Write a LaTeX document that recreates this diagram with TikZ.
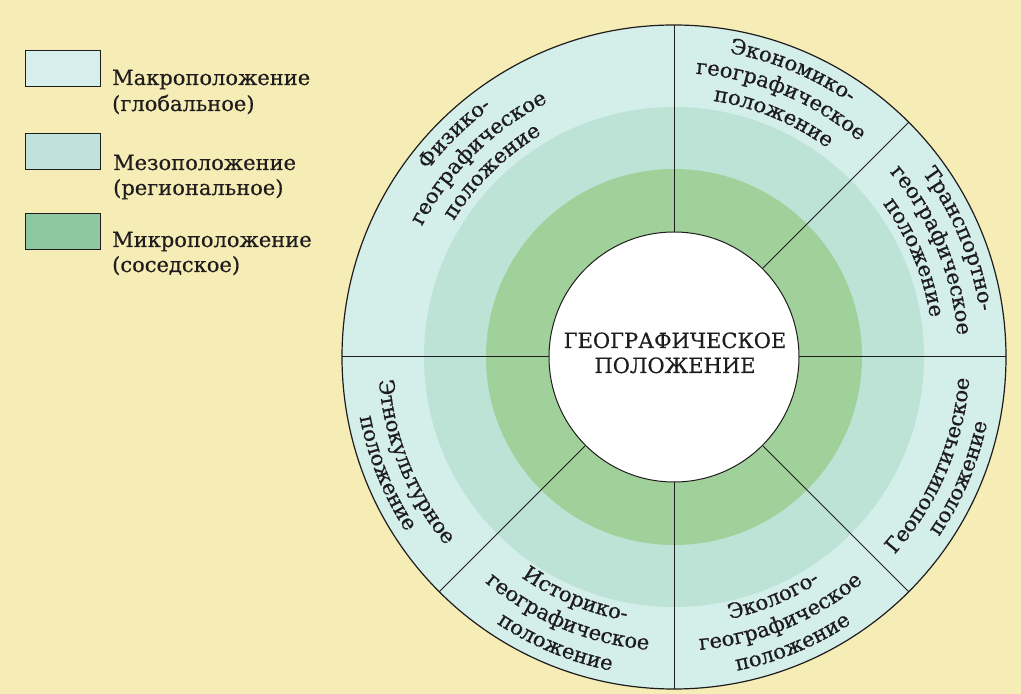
\documentclass[tikz,border=0pt]{standalone}
\usepackage{fontspec}
\setmainfont{DejaVu Serif}[UprightFeatures={FakeBold=0.45}]
\usetikzlibrary{decorations.text}
\definecolor{paper}{HTML}{F6EDB6}
\definecolor{macro}{HTML}{D4EEE9}
\definecolor{meso}{HTML}{BDE3D6}
\definecolor{micro}{HTML}{A0D19A}
\definecolor{boxA}{HTML}{D6EFED}
\definecolor{boxB}{HTML}{BFE3DC}
\definecolor{boxC}{HTML}{8EC8A2}
\definecolor{ink}{HTML}{1E1C1C}
\newcommand\secfont{\fontsize{21}{25}\selectfont}
\newcommand\toptext[3]{%
  \path[decorate,decoration={text along path,text align=center,text={|\secfont\color{ink}|#3}}]
    ([shift={(#2+45:#1)}]C) arc[start angle=#2+45,end angle=#2-45,radius=#1];}
\newcommand\bottext[3]{%
  \path[decorate,decoration={text along path,text align=center,text={|\secfont\color{ink}|#3}}]
    ([shift={(#2-45:#1)}]C) arc[start angle=#2-45,end angle=#2+45,radius=#1];}
\tikzset{
  legendbox/.style={draw=ink,line width=0.9pt,minimum width=75pt,minimum height=36pt,inner sep=0pt,anchor=north west},
  legendtext/.style={anchor=base west,inner sep=0pt,font=\fontsize{21}{25}\selectfont,text=ink},
  divider/.style={draw=ink,line width=1pt},
}
\begin{document}
\begin{tikzpicture}[x=1pt,y=1pt]
\useasboundingbox (0,0) rectangle (1021,694);
\fill[paper] (0,0) rectangle (1021,694);
% legend
\node[legendbox,fill=boxA] (bA) at (25,644) {};
\node[legendbox,fill=boxB] (bB) at (25,561) {};
\node[legendbox,fill=boxC] (bC) at (25,481) {};
\node[legendtext] (tA1) at (112,609) {Макроположение};
\node[legendtext] (tA2) at (112,583) {(глобальное)};
\node[legendtext] (tB1) at (113,524) {Мезоположение};
\node[legendtext] (tB2) at (113,499) {(региональное)};
\node[legendtext] (tC1) at (112,447) {Микроположение};
\node[legendtext] (tC2) at (112,422) {(соседское)};
% rings
\coordinate (C) at (674,337);
\fill[macro] (C) circle[radius=332];
\fill[meso] (C) circle[radius=250];
\fill[micro] (C) circle[radius=188];
\draw[ink,line width=1.2pt] (C) circle[radius=332];
\foreach \a in {90,45,0,-45,-90,-135,180}
  \draw[divider] ([shift={(\a:125)}]C) -- ([shift={(\a:332)}]C);
\node[circle,fill=white,draw=ink,line width=1pt,minimum size=250pt,inner sep=0pt] (core) at (C) {};
\node[anchor=base,inner sep=0pt,font=\fontsize{21}{25}\selectfont,text=ink] (g1) at (675,346) {ГЕОГРАФИЧЕСКОЕ};
\node[anchor=base,inner sep=0pt,font=\fontsize{21}{25}\selectfont,text=ink] (g2) at (675,321) {ПОЛОЖЕНИЕ};
% top sectors (clockwise)
\toptext{309}{134.5}{Физико-}
\toptext{284}{134.5}{географическое}
\toptext{259}{134.5}{положение}
\toptext{309}{67.5}{Экономико-}
\toptext{284}{67.5}{географическое}
\toptext{259}{67.5}{положение}
\toptext{309}{22.5}{Транспортно-}
\toptext{284}{22.5}{географическое}
\toptext{259}{22.5}{положение}
% bottom sectors (counterclockwise)
\bottext{296}{-23}{Геополитическое}
\bottext{320}{-23}{положение}
\bottext{268}{-67.5}{Эколого-}
\bottext{294}{-67.5}{географическое}
\bottext{320}{-67.5}{положение}
\bottext{268}{-112.5}{Историко-}
\bottext{294}{-112.5}{географическое}
\bottext{320}{-112.5}{положение}
\bottext{296}{-158}{Этнокультурное}
\bottext{320}{-158}{положение}
\end{tikzpicture}
\end{document}
